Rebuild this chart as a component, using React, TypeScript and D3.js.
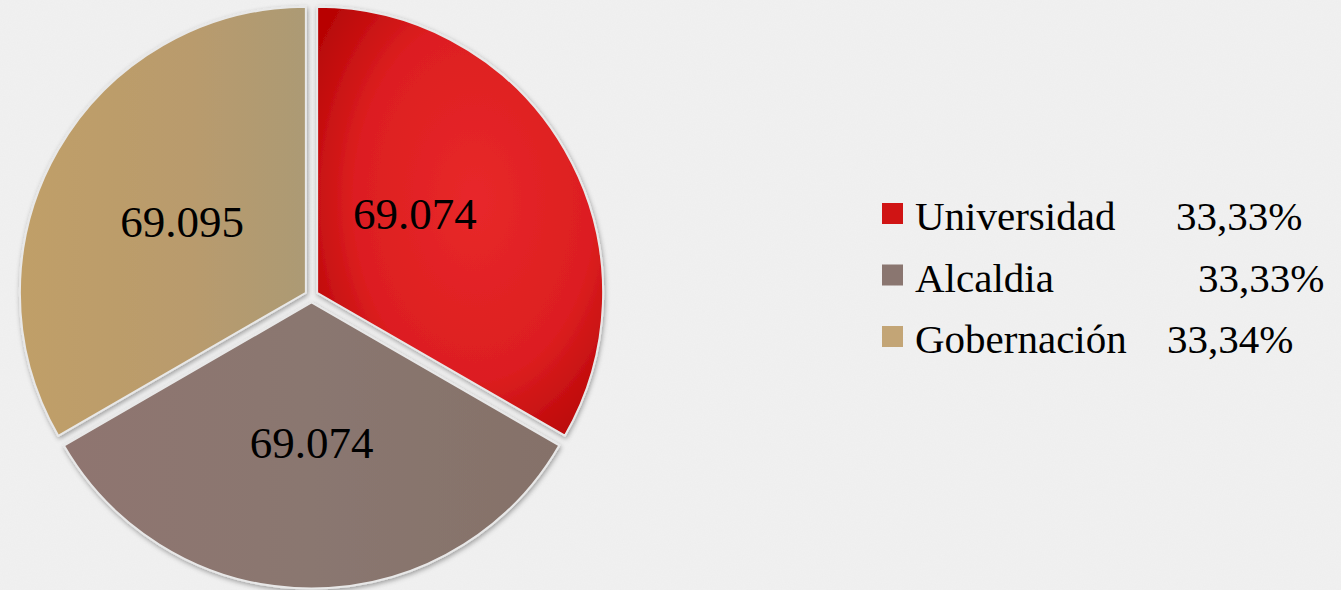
import React from "react";
import * as d3 from "d3";

const categories = ["Universidad", "Alcaldia", "Gobernación"];
const values = [69074, 69074, 69095];
const valueLabels = ["69.074", "69.074", "69.095"];
const percentLabels = ["33,33%", "33,33%", "33,34%"];
const percentX = [1176, 1198, 1167];

const W = 1341;
const H = 590;
const cx = 311.5;
const cy = 296;
const R = 286;
const explode = 6.5;

// label placement (fraction of radius, angle tweak in degrees)
const labelRadius = [0.44, 0.49, 0.5];
const labelAngleShift = [-9, 0, 0];

const legendColors = ["#d01414", "#8a7670", "#c3a576"];
const FONT = "'Liberation Serif', 'Times New Roman', 'DejaVu Serif', serif";

export default function App() {
  const pie = d3
    .pie<number>()
    .sort(null)
    .value((d) => d)(values);
  const arc = d3.arc<d3.PieArcDatum<number>>().innerRadius(0).outerRadius(R);

  return (
    <svg
      width={W}
      height={H}
      style={{ position: "absolute", left: 0, top: 0, fontFamily: FONT }}
    >
      <defs>
        <filter id="noise" x="0" y="0" width="100%" height="100%">
          <feTurbulence type="fractalNoise" baseFrequency="0.85" numOctaves="2" seed="3" result="t" />
          <feColorMatrix
            in="t"
            type="matrix"
            values="0 0 0 0 0.6  0 0 0 0 0.6  0 0 0 0 0.6  0 0 0 0.09 0"
          />
        </filter>
        <filter id="shadow" x="-10%" y="-10%" width="120%" height="120%">
          <feDropShadow dx="1" dy="2" stdDeviation="2.5" floodColor="#000" floodOpacity="0.35" />
        </filter>
        <radialGradient id="g0" cx="0.55" cy="0.45" r="0.65">
          <stop offset="0%" stopColor="#e8282a" />
          <stop offset="65%" stopColor="#dc1e20" />
          <stop offset="100%" stopColor="#b80606" />
        </radialGradient>
        <linearGradient id="g1" x1="0" y1="0" x2="1" y2="0">
          <stop offset="0%" stopColor="#8f756f" />
          <stop offset="50%" stopColor="#8a7770" />
          <stop offset="100%" stopColor="#857169" />
        </linearGradient>
        <linearGradient id="g2" x1="0" y1="0" x2="1" y2="0">
          <stop offset="0%" stopColor="#c09f68" />
          <stop offset="60%" stopColor="#b99b6d" />
          <stop offset="100%" stopColor="#ac9a74" />
        </linearGradient>
      </defs>
      <rect width={W} height={H} fill="#f1f1f1" />
      <rect width={W} height={H} filter="url(#noise)" />
      {pie.map((p, i) => {
        const mid = (p.startAngle + p.endAngle) / 2;
        const ox = cx + explode * Math.sin(mid);
        const oy = cy - explode * Math.cos(mid);
        return (
          <g key={categories[i]} transform={`translate(${ox},${oy})`}>
            <path
              d={arc(p) || ""}
              fill={`url(#g${i})`}
              stroke="#e8e8e8"
              strokeWidth={2}
              strokeLinejoin="round"
              filter="url(#shadow)"
            />
          </g>
        );
      })}
      {pie.map((p, i) => {
        const mid = (p.startAngle + p.endAngle) / 2;
        const ox = cx + explode * Math.sin(mid);
        const oy = cy - explode * Math.cos(mid);
        const a = mid + (labelAngleShift[i] * Math.PI) / 180;
        const rr = R * labelRadius[i];
        const lx = ox + rr * Math.sin(a);
        const ly = oy - rr * Math.cos(a);
        return (
          <text
            key={"l" + i}
            x={lx}
            y={ly}
            textAnchor="middle"
            dy="0.35em"
            fontSize={45}
            fontFamily={FONT}
            fill="#000"
          >
            {valueLabels[i]}
          </text>
        );
      })}
      {categories.map((c, i) => {
        const y = 230 + i * 61.5;
        return (
          <g key={"lg" + i}>
            <rect x={882} y={y - 27} width={21} height={21} fill={legendColors[i]} />
            <text x={915} y={y} fontSize={41} fontFamily={FONT} fill="#000">
              {c}
            </text>
            <text x={percentX[i]} y={y} fontSize={41} fontFamily={FONT} fill="#000">
              {percentLabels[i]}
            </text>
          </g>
        );
      })}
    </svg>
  );
}
